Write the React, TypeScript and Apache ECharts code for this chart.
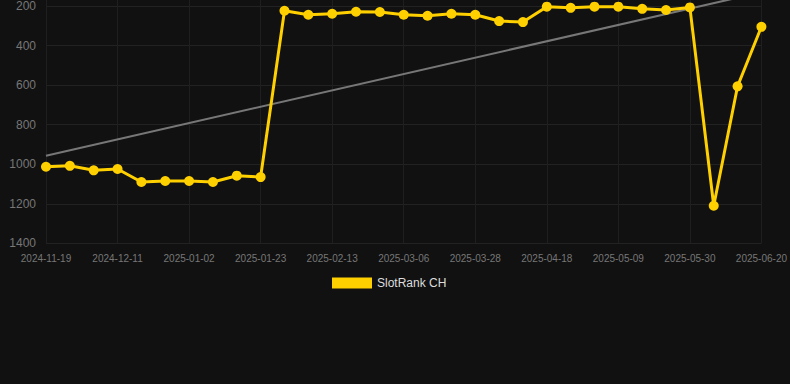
import React, { useEffect, useRef } from "react";
import * as echarts from "echarts";

const dates = [
  "2024-11-19", "2024-11-26", "2024-12-04", "2024-12-11", "2024-12-18", "2024-12-25",
  "2025-01-02", "2025-01-09", "2025-01-16", "2025-01-23", "2025-01-30", "2025-02-06",
  "2025-02-13", "2025-02-20", "2025-02-27", "2025-03-06", "2025-03-13", "2025-03-21",
  "2025-03-28", "2025-04-04", "2025-04-11", "2025-04-18", "2025-04-25", "2025-05-02",
  "2025-05-09", "2025-05-16", "2025-05-23", "2025-05-30", "2025-06-06", "2025-06-13",
  "2025-06-20",
];

const rankValues = [
  1013, 1008, 1031, 1024, 1090, 1085, 1085, 1090, 1058, 1065,
  224, 244, 239, 229, 230, 244, 249, 239, 244, 276, 281,
  203, 209, 203, 203, 214, 220, 207, 1210, 606, 305,
];

const trendStart = 957;
const trendEnd = 130;

const yTicks = { min: 0, max: 1400, interval: 200 };

const OFFSET = 40;

export default function App() {
  const ref = useRef<HTMLDivElement>(null);
  useEffect(() => {
    if (!ref.current) return;
    const chart = echarts.init(ref.current, null, { renderer: "svg" });
    chart.setOption({
      animation: false,
      backgroundColor: "#111111",
      grid: { left: 46, right: 28, top: 6.5, bottom: 140.7, containLabel: false },
      legend: {
        data: [{ name: "SlotRank CH", icon: "rect" }],
        left: 327,
        top: 272 + OFFSET,
        itemWidth: 40,
        itemHeight: 11,
        itemGap: 10,
        textStyle: { color: "#dddddd", fontSize: 12, fontFamily: "Arial, Liberation Sans, sans-serif" },
      },
      xAxis: {
        type: "category",
        data: dates,
        boundaryGap: false,
        axisLine: { show: false, onZero: false },
        axisTick: { show: false },
        axisLabel: {
          interval: 2,
          color: "#777777",
          fontSize: 10,
          margin: 10,
          fontFamily: "Arial, Liberation Sans, sans-serif",
        },
        splitLine: { show: true, interval: 2, lineStyle: { color: "#1f1f1f", width: 1 } },
      },
      yAxis: {
        type: "value",
        inverse: true,
        min: yTicks.min,
        max: yTicks.max,
        interval: yTicks.interval,
        axisLine: { show: false },
        axisTick: { show: false },
        axisLabel: {
          color: "#777777",
          fontSize: 12,
          margin: 10,
          formatter: (v: number) => String(v),
          fontFamily: "Arial, Liberation Sans, sans-serif",
        },
        splitLine: { show: true, lineStyle: { color: "#222222", width: 1 } },
      },
      series: [
        {
          name: "Trend",
          type: "line",
          data: [
            [dates[0], trendStart],
            [dates[dates.length - 1], trendEnd],
          ],
          showSymbol: false,
          symbol: "none",
          lineStyle: { color: "#777777", width: 2 },
          silent: true,
          z: 1,
        },
        {
          name: "SlotRank CH",
          type: "line",
          data: rankValues,
          symbol: "circle",
          symbolSize: 10,
          itemStyle: { color: "#ffd000" },
          lineStyle: { color: "#ffd000", width: 3 },
          z: 2,
        },
      ],
    });
    return () => chart.dispose();
  }, []);
  return (
    <div
      ref={ref}
      style={{ position: "fixed", left: 0, top: -OFFSET, width: 790, height: 384 + OFFSET }}
    />
  );
}
